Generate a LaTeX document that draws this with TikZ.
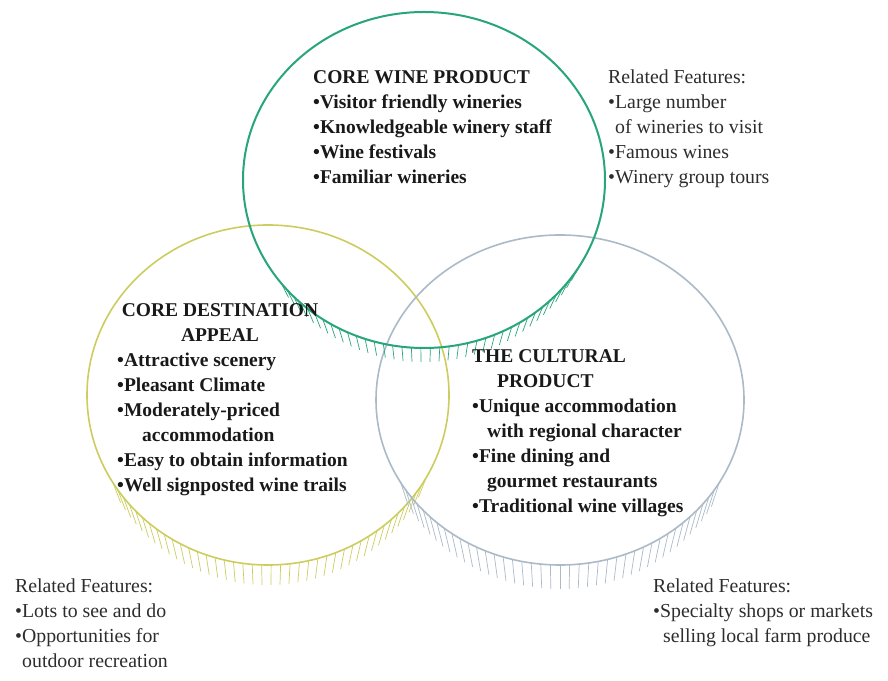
\documentclass[tikz,border=0pt]{standalone}
\usepackage{fontspec}
\setmainfont{Liberation Serif}
\definecolor{ringtop}{RGB}{40,165,125}
\definecolor{ringleft}{RGB}{205,205,95}
\definecolor{ringright}{RGB}{172,186,200}
\definecolor{txt}{RGB}{25,25,25}
\definecolor{reltxt}{RGB}{45,45,45}
\begin{document}
\begin{tikzpicture}[x=1pt,y=1pt,
  blk/.style={inner sep=0pt, anchor=base west, align=left, font=\fontsize{19.5}{25}\selectfont\bfseries, text=txt},
  rel/.style={inner sep=0pt, anchor=base west, align=left, font=\fontsize{19.8}{25}\selectfont, text=reltxt},
  hatch/.style={line width=0.7pt}]
\useasboundingbox (0,0) rectangle (888,680);
\fill[white] (0,0) rectangle (888,680);

% left ellipse
\draw[ringleft, line width=1.6pt] (268,285) ellipse [x radius=181, y radius=170];
\foreach \a in {211,214,...,333}
  \draw[ringleft, hatch] ({268+181*cos(\a)},{285+170*sin(\a)}) -- ({268+0.95*181*cos(\a)},{285+170*sin(\a)-20});
% right ellipse
\draw[ringright, line width=1.6pt] (560,280) ellipse [x radius=184, y radius=165];
\foreach \a in {210,213,...,330}
  \draw[ringright, hatch] ({560+184*cos(\a)},{280+165*sin(\a)}) -- ({560+0.95*184*cos(\a)},{280+165*sin(\a)-24});
% top ellipse
\draw[ringtop, line width=2pt] (424,500) ellipse [x radius=181, y radius=168];
\foreach \a in {218,221,...,332}
  \draw[ringtop, hatch] ({424+181*cos(\a)},{500+168*sin(\a)}) -- ({424+0.95*181*cos(\a)},{500+168*sin(\a)-14});

\node[blk] (wine) at (313,496) {CORE WINE PRODUCT\\\textbullet Visitor friendly wineries\\\textbullet Knowledgeable winery staff\\\textbullet Wine festivals\\\textbullet Familiar wineries};
\node[rel] (winerel) at (608,496) {Related Features:\\\textbullet Large number\\\hphantom{\textbullet}of wineries to visit\\\textbullet Famous wines\\\textbullet Winery group tours};

\node[blk, anchor=base, align=center] (desttitle) at (220,338) {CORE DESTINATION\\APPEAL};
\node[blk] (dest) at (117,188) {\textbullet Attractive scenery\\\textbullet Pleasant Climate\\\textbullet Moderately-priced\\\hspace*{25pt}accommodation\\\textbullet Easy to obtain information\\\textbullet Well signposted wine trails};

\node[blk] (cult) at (472,167) {THE CULTURAL\\\hspace*{25pt}PRODUCT\\\textbullet Unique accommodation\\\hspace*{15pt}with regional character\\\textbullet Fine dining and\\\hspace*{15pt}gourmet restaurants\\\textbullet Traditional wine villages};

\node[rel] (destrel) at (15,13) {Related Features:\\\textbullet Lots to see and do\\\textbullet Opportunities for\\\hspace*{7pt}outdoor recreation};
\node[rel] (cultrel) at (653,38) {Related Features:\\\textbullet Specialty shops or markets\\\hspace*{10pt}selling local farm produce};
\end{tikzpicture}
\end{document}
